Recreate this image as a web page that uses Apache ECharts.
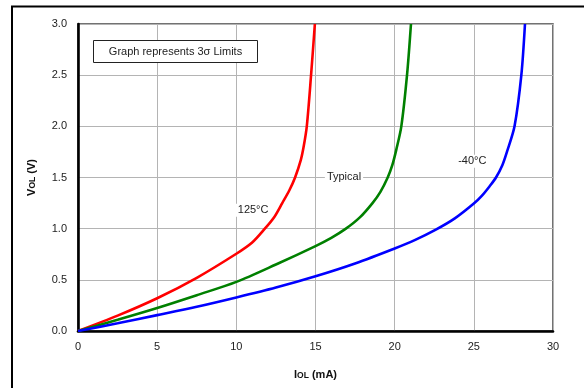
<!DOCTYPE html>
<html>
<head>
<meta charset="utf-8">
<script src="https://cdn.jsdelivr.net/npm/echarts@6/dist/echarts.min.js"></script>
<style>
  html, body { margin: 0; padding: 0; background: #fff; }
  #chart { width: 584px; height: 388px; }
</style>
</head>
<body>
<div id="chart"></div>
<script>
// I_OL (mA), V_OL (V) pairs
const red125 = [
  [0, 0], [2.5, 0.15], [5, 0.32], [7.5, 0.52], [10, 0.755], [11, 0.865],
  [11.8, 1.0], [12.4, 1.115], [12.9, 1.25], [13.35, 1.375], [13.71, 1.5],
  [14.07, 1.67], [14.25, 1.8], [14.45, 2.0], [14.72, 2.5], [14.96, 3.0],
];
const greenTyp = [
  [0, 0], [2.5, 0.11], [5, 0.225], [7.5, 0.35], [10, 0.48], [12.5, 0.65],
  [15, 0.83], [16, 0.91], [16.92, 1.0], [17.8, 1.11], [18.6, 1.25],
  [19.1, 1.36], [19.56, 1.5], [19.85, 1.62], [20.1, 1.77], [20.42, 2.0],
  [20.78, 2.5], [21.03, 3.0],
];
const blueM40 = [
  [0, 0], [2.5, 0.075], [5, 0.155], [7.5, 0.237], [10, 0.328], [12.5, 0.425],
  [15, 0.535], [17.5, 0.66], [20, 0.806], [21.3, 0.89], [22.6, 0.99],
  [23.8, 1.1], [25, 1.245], [25.5, 1.32], [26, 1.415], [26.4, 1.5],
  [26.8, 1.62], [27.09, 1.75], [27.57, 2.0], [28.0, 2.5], [28.23, 3.0],
];
const curveLabels = ["125°C", "Typical", "-40°C"];
const labelCoords = [[11.06, 1.18], [16.8, 1.507], [24.9, 1.66]];
const noteText = "Graph represents 3σ Limits";

const myChart = echarts.init(document.getElementById("chart"));

function curve(data, color, idx) {
  return {
    type: "line",
    data: data,
    smooth: 0.3,
    showSymbol: false,
    lineStyle: { color: color, width: 2.6 },
    z: 3,
    markPoint: {
      symbol: "circle",
      symbolSize: 0,
      silent: true,
      data: [{
        coord: labelCoords[idx],
        label: {
          show: true,
          formatter: curveLabels[idx],
          position: "inside",
          color: "#222",
          fontFamily: "Arial, Liberation Sans",
          fontSize: 11,
          backgroundColor: "#fff",
          padding: [1, 2],
        },
      }],
    },
  };
}

var option = {
  backgroundColor: "#fff",
  animation: false,
  grid: {
    left: 78,
    top: 24,
    right: 31,
    bottom: 57,
    show: true,
    borderColor: "#444",
    borderWidth: 1.5,
  },
  xAxis: {
    type: "value",
    min: 0,
    max: 30,
    interval: 5,
    name: "{a|I}{b|OL}{a| (mA)}",
    nameLocation: "middle",
    nameGap: 38,
    nameTextStyle: {
      rich: {
        a: { fontWeight: "bold", fontSize: 11, color: "#111", fontFamily: "Arial, Liberation Sans" },
        b: { fontWeight: "bold", fontSize: 8.5, color: "#111", fontFamily: "Arial, Liberation Sans", padding: [2, 0, 0, 0] },
      },
    },
    axisLine: { lineStyle: { color: "#000", width: 2.6 } },
    axisTick: { show: false },
    axisLabel: { color: "#222", fontSize: 11, fontFamily: "Arial, Liberation Sans", margin: 10 },
    splitLine: { lineStyle: { color: "#b4b4b4", width: 1 } },
  },
  yAxis: {
    type: "value",
    min: 0,
    max: 3,
    interval: 0.5,
    name: "{a|V}{b|OL}{a| (V)}",
    nameLocation: "middle",
    nameGap: 41,
    nameTextStyle: {
      rich: {
        a: { fontWeight: "bold", fontSize: 11, color: "#111", fontFamily: "Arial, Liberation Sans" },
        b: { fontWeight: "bold", fontSize: 8.5, color: "#111", fontFamily: "Arial, Liberation Sans", padding: [2, 0, 0, 0] },
      },
    },
    axisLine: { show: true, lineStyle: { color: "#000", width: 2.6 } },
    axisTick: { show: false },
    axisLabel: {
      color: "#222",
      fontSize: 11,
      fontFamily: "Arial, Liberation Sans",
      margin: 11,
      formatter: function (v) { return v.toFixed(1); },
    },
    splitLine: { lineStyle: { color: "#b4b4b4", width: 1 } },
  },
  graphic: [
    {
      type: "rect",
      shape: { x: 12, y: 6.5, width: 640, height: 440 },
      style: { fill: "none", stroke: "#000", lineWidth: 2 },
      z: 0,
      silent: true,
    },
    {
      type: "rect",
      shape: { x: 93.5, y: 40.5, width: 164, height: 22 },
      style: { fill: "#fff", stroke: "#222", lineWidth: 1 },
      z: 10,
    },
    {
      type: "text",
      x: 175.5,
      y: 51.5,
      style: {
        text: noteText,
        fill: "#222",
        font: "11px Arial, 'Liberation Sans'",
        textAlign: "center",
        textVerticalAlign: "middle",
      },
      z: 11,
    },
  ],
  series: [
    curve(red125, "#ff0000", 0),
    curve(greenTyp, "#008000", 1),
    curve(blueM40, "#0000ff", 2),
  ],
};
myChart.setOption(option);
</script>
</body>
</html>
